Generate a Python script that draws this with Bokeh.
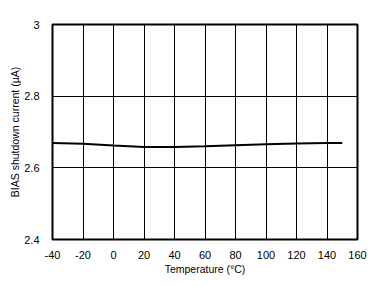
from bokeh.plotting import figure
from bokeh.embed import file_html
from bokeh.resources import INLINE
from bokeh.models import FixedTicker, Range1d

temps = [-40, -20, 0, 20, 40, 60, 80, 100, 120, 140, 150]
current = [2.669, 2.667, 2.662, 2.658, 2.658, 2.660, 2.663, 2.666, 2.668, 2.669, 2.669]
x_ticks = [-40, -20, 0, 20, 40, 60, 80, 100, 120, 140, 160]
x_tick_labels = ["-40", "-20", "0", "20", "40", "60", "80", "100", "120", "140", "160"]
y_ticks = [2.4, 2.6, 2.8, 3.0]
y_tick_labels = ["2.4", "2.6", "2.8", "3"]

p = figure(width=382, height=286, output_backend="svg", toolbar_location=None,
           x_range=Range1d(-40, 160), y_range=Range1d(2.4, 3.0),
           min_border_left=52, min_border_right=25, min_border_top=24, min_border_bottom=47)
p.background_fill_color = "white"
p.border_fill_color = "white"
p.outline_line_color = "black"
p.outline_line_width = 2

p.line(temps, current, line_color="black", line_width=2)

p.xaxis.ticker = FixedTicker(ticks=x_ticks)
p.yaxis.ticker = FixedTicker(ticks=y_ticks)
p.xaxis.major_label_overrides = dict(zip(x_ticks, x_tick_labels))
p.yaxis.major_label_overrides = dict(zip(y_ticks, y_tick_labels))
p.xaxis.axis_label = "Temperature (°C)"
p.yaxis.axis_label = "BIAS shutdown current (µA)"
for ax in (p.xaxis, p.yaxis):
    ax.axis_line_color = None
    ax.major_tick_line_color = None
    ax.minor_tick_line_color = None
    ax.major_label_text_font = "Liberation Sans"
    ax.major_label_text_font_size = "11px"
    ax.major_label_text_color = "black"
    ax.axis_label_text_font = "Liberation Sans"
    ax.axis_label_text_font_size = "10.5px"
    ax.axis_label_text_font_style = "normal"
    ax.axis_label_text_color = "black"
p.xaxis.major_label_standoff = 5
p.yaxis.major_label_standoff = 7
p.xaxis.axis_label_standoff = 1
p.yaxis.axis_label_standoff = 0

p.xgrid.ticker = FixedTicker(ticks=x_ticks)
p.ygrid.ticker = FixedTicker(ticks=y_ticks)
for g in (p.xgrid, p.ygrid):
    g.grid_line_color = "black"
    g.grid_line_width = 1
    g.grid_line_alpha = 1.0

open("out.html", "w").write(file_html(p, INLINE))
